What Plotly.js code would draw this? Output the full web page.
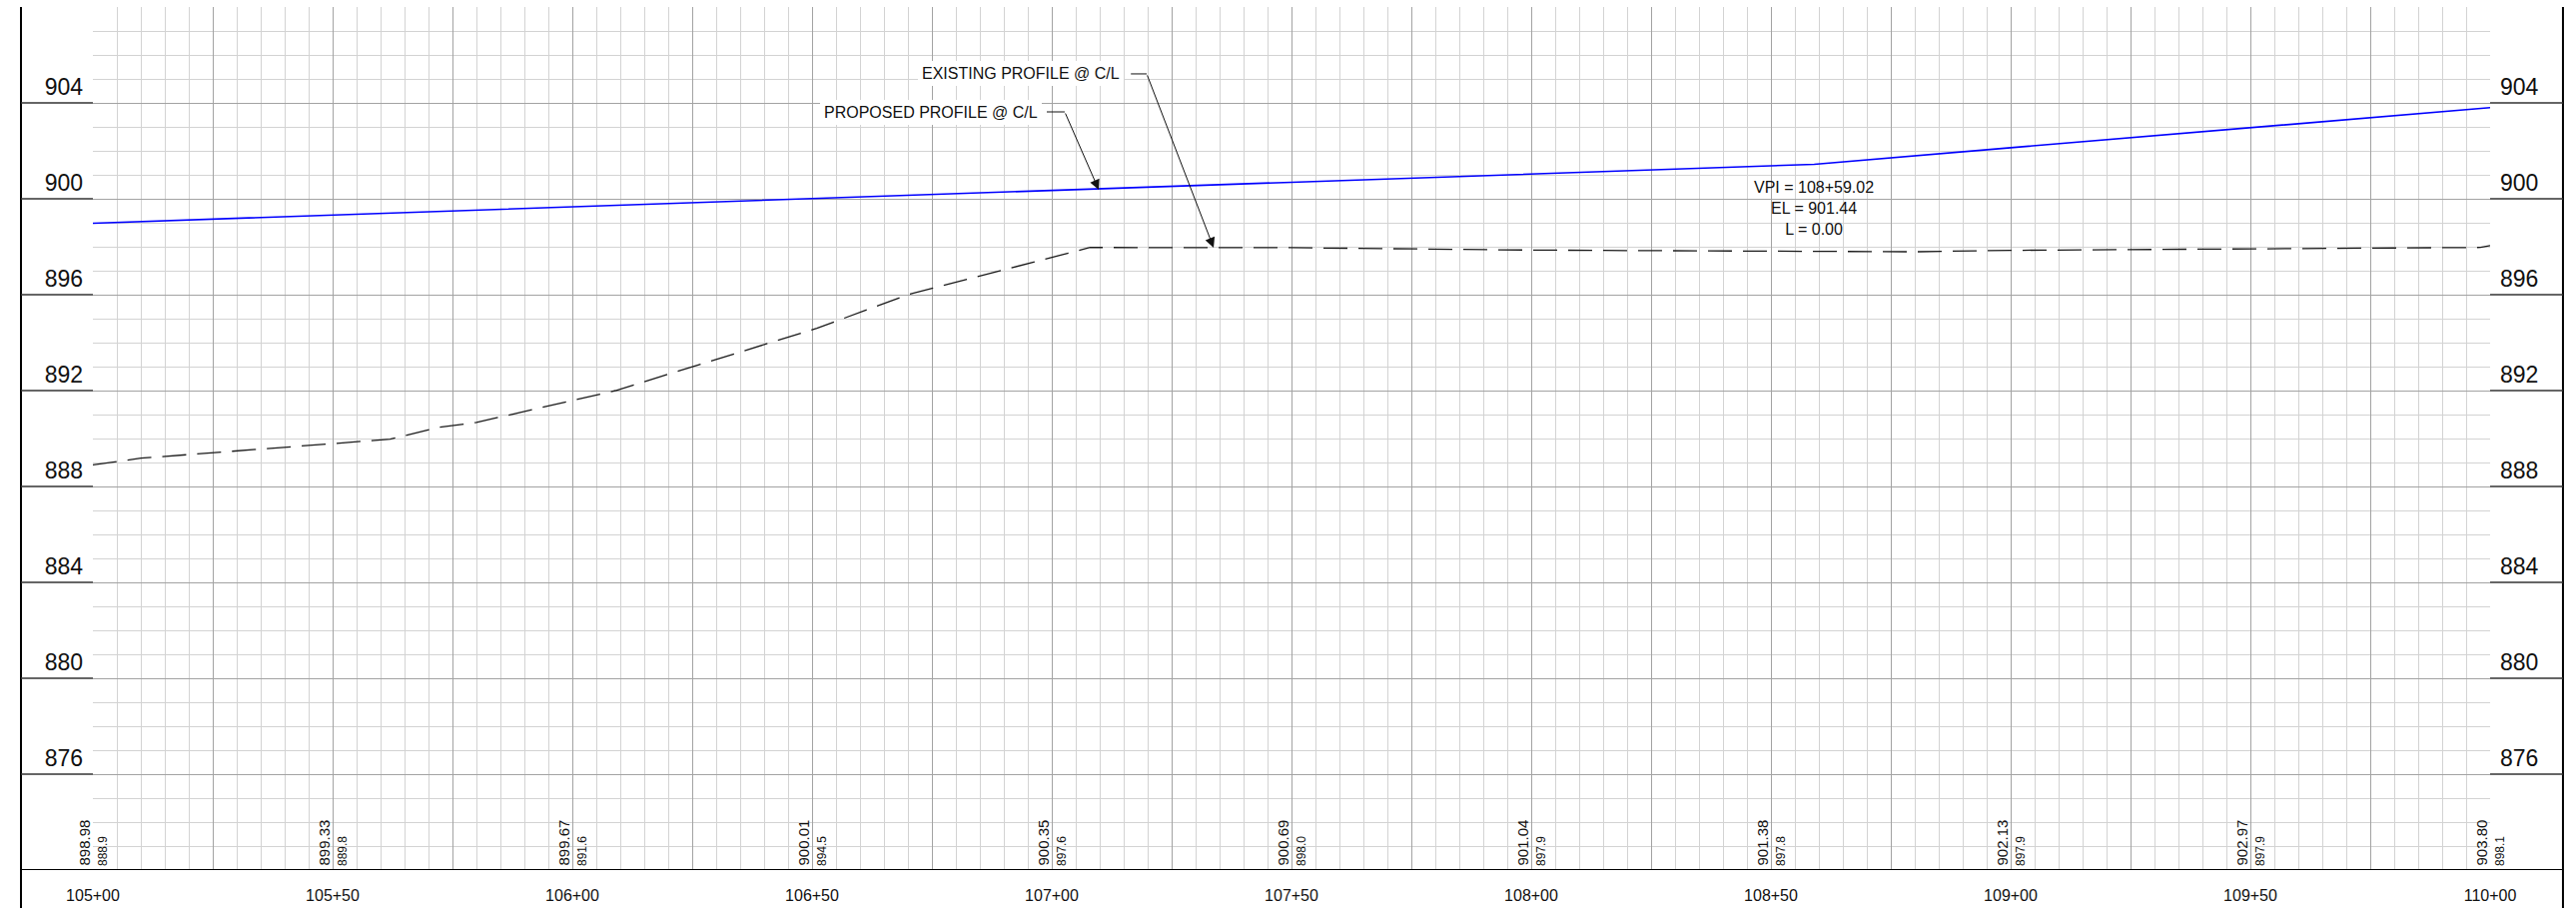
<!DOCTYPE html>
<html><head><meta charset="utf-8">
<script src="https://cdn.plot.ly/plotly-3.0.1.min.js"></script>
<style>html,body{margin:0;padding:0;background:#fff;}#chart{width:2579px;height:919px;}</style>
</head><body><div id="chart"></div>
<script>
// ---- data ----
const labelStations = [10500,10550,10600,10650,10700,10750,10800,10850,10900,10950,11000];
const stationLabels = ['105+00','105+50','106+00','106+50','107+00','107+50','108+00','108+50','109+00','109+50','110+00'];
const proposedLabels = ['898.98','899.33','899.67','900.01','900.35','900.69','901.04','901.38','902.13','902.97','903.80'];
const existingLabels = ['888.9','889.8','891.6','894.5','897.6','898.0','897.9','897.8','897.9','897.9','898.1'];

const proposedStations = [10500,10550,10600,10650,10700,10750,10800,10850,10859.02,10900,10950,11000];
const proposedElev     = [898.98,899.33,899.67,900.01,900.35,900.69,901.04,901.38,901.44,902.13,902.97,903.80];

const existingStations = [10500,10510,10562,10572,10580,10609,10651,10670,10708,10750,10800,10850,10880,10900,10950,10998,11000];
const existingElev     = [888.9,889.18,889.97,890.46,890.67,892.0,894.6,896.0,897.97,897.96,897.86,897.8,897.79,897.85,897.9,897.97,898.05];

const gridStations = [10500,10525,10550,10575,10600,10625,10650,10675,10700,10725,10750,10775,10800,10825,10850,10875,10900,10925,10950,10975,11000];
const elevTicks  = [872,876,880,884,888,892,896,900,904];
const elevLabels = ['','876','880','884','888','892','896','900','904'];

const vpiStation = 10859.02;
const vpiText = 'VPI = 108+59.02<br>EL = 901.44<br>L = 0.00';

// ---- styling ----
const FONT = 'Liberation Sans, Arial, Helvetica, sans-serif';
const TXT = '#111111';
const MAJOR = '#a3a3a3';
const MINOR = '#d3d3d3';

const xTickText = gridStations.map(s => {
  const i = labelStations.indexOf(s);
  return i >= 0 ? stationLabels[i] : '';
});

const traces = [
  {x: proposedStations, y: proposedElev, type:'scatter', mode:'lines',
   line:{color:'#0000ff', width:1.6}, hoverinfo:'skip', showlegend:false},
  {x: existingStations, y: existingElev, type:'scatter', mode:'lines', yaxis:'y2',
   line:{color:'#1a1a1a', width:1.3, dash:'24px,11px'}, hoverinfo:'skip', showlegend:false}
];

const shapes = [];
// outer frame
shapes.push({type:'line', xref:'paper', yref:'paper', x0:-0.03, x1:-0.03, y0:1, y1:-0.044, line:{color:'#000', width:2}});
shapes.push({type:'line', xref:'paper', yref:'paper', x0:1.0304, x1:1.0304, y0:1, y1:-0.044, line:{color:'#000', width:2}});
shapes.push({type:'line', xref:'paper', yref:'y', x0:-0.03, x1:1.0304, y0:872, y1:872, line:{color:'#000', width:2}});
// label panel separators
elevTicks.slice(1).forEach(e => {
  shapes.push({type:'line', xref:'paper', yref:'y', x0:-0.03, x1:0, y0:e, y1:e, line:{color:'#333', width:1.5}});
  shapes.push({type:'line', xref:'paper', yref:'y', x0:1, x1:1.0304, y0:e, y1:e, line:{color:'#333', width:1.5}});
});
// leader horizontal ticks
const propLeader = {tx:10697.9, hx0:10698.96, hx1:10702.7, hy:903.625, tipX:10709.8, tipY:900.375};
const exLeader   = {tx:10715.0, hx0:10716.5, hx1:10719.8, hy:905.21, tipX:10733.75, tipY:897.96};
[propLeader, exLeader].forEach(L => {
  shapes.push({type:'line', xref:'x', yref:'y', x0:L.hx0, x1:L.hx1, y0:L.hy, y1:L.hy, line:{color:'#111', width:1}});
});

const annotations = [];
annotations.push({xref:'x', yref:'y', x:propLeader.tx, y:propLeader.hy, xanchor:'right', yanchor:'middle',
  text:'PROPOSED PROFILE @ C/L', showarrow:false, bgcolor:'#ffffff', borderpad:4, borderwidth:0,
  font:{family:FONT, size:16, color:TXT}});
annotations.push({xref:'x', yref:'y', x:exLeader.tx, y:exLeader.hy, xanchor:'right', yanchor:'middle',
  text:'EXISTING PROFILE @ C/L', showarrow:false, bgcolor:'#ffffff', borderpad:4, borderwidth:0,
  font:{family:FONT, size:16, color:TXT}});
[propLeader, exLeader].forEach(L => {
  annotations.push({xref:'x', yref:'y', x:L.tipX, y:L.tipY, axref:'x', ayref:'y', ax:L.hx1, ay:L.hy,
    text:'', showarrow:true, arrowhead:2, arrowsize:2, arrowwidth:1, arrowcolor:'#111', standoff:0, startstandoff:0});
});
annotations.push({xref:'x', yref:'y', x:vpiStation, y:899.625, xanchor:'center', yanchor:'middle',
  text:vpiText, showarrow:false, font:{family:FONT, size:16, color:TXT}});

labelStations.forEach((s, i) => {
  annotations.push({xref:'x', yref:'y', x:s, y:872, xanchor:'right', yanchor:'bottom', textangle:-90,
    xshift:0, yshift:3, text:proposedLabels[i], showarrow:false, borderpad:0,
    font:{family:FONT, size:15, color:TXT}});
  annotations.push({xref:'x', yref:'y', x:s, y:872, xanchor:'left', yanchor:'bottom', textangle:-90,
    xshift:2, yshift:3, text:existingLabels[i], showarrow:false, borderpad:0,
    font:{family:FONT, size:12, color:TXT}});
});

const layout = {
  width:2579, height:919,
  margin:{l:93, r:86, t:7, b:48, pad:0},
  paper_bgcolor:'#ffffff', plot_bgcolor:'#ffffff',
  showlegend:false,
  font:{family:FONT, color:TXT},
  xaxis:{range:[10500,11000], tickmode:'array', tickvals:gridStations, ticktext:xTickText,
    showgrid:true, gridcolor:MAJOR, gridwidth:1, zeroline:false, showline:false, ticks:'',
    tickfont:{family:FONT, size:16, color:TXT}, ticklabelstandoff:14, fixedrange:true,
    minor:{tickmode:'linear', tick0:10500, dtick:5, showgrid:true, gridcolor:MINOR, gridwidth:1}},
  yaxis:{range:[872,908], tickmode:'array', tickvals:elevTicks, ticktext:elevLabels,
    showgrid:true, gridcolor:MAJOR, gridwidth:1, zeroline:false, showline:false, ticks:'',
    tickfont:{family:FONT, size:23, color:TXT}, ticklabelshift:-16, ticklabelstandoff:9, fixedrange:true,
    minor:{tickmode:'linear', tick0:872, dtick:1, showgrid:true, gridcolor:MINOR, gridwidth:1}},
  yaxis2:{range:[872,908], overlaying:'y', side:'right', anchor:'x', tickmode:'array', tickvals:elevTicks, ticktext:elevLabels,
    showgrid:false, zeroline:false, showline:false, ticks:'',
    tickfont:{family:FONT, size:23, color:TXT}, ticklabelshift:-16, ticklabelstandoff:9, fixedrange:true},
  shapes:shapes,
  annotations:annotations
};

Plotly.newPlot('chart', traces, layout, {staticPlot:true, displayModeBar:false});
</script>
</body></html>
